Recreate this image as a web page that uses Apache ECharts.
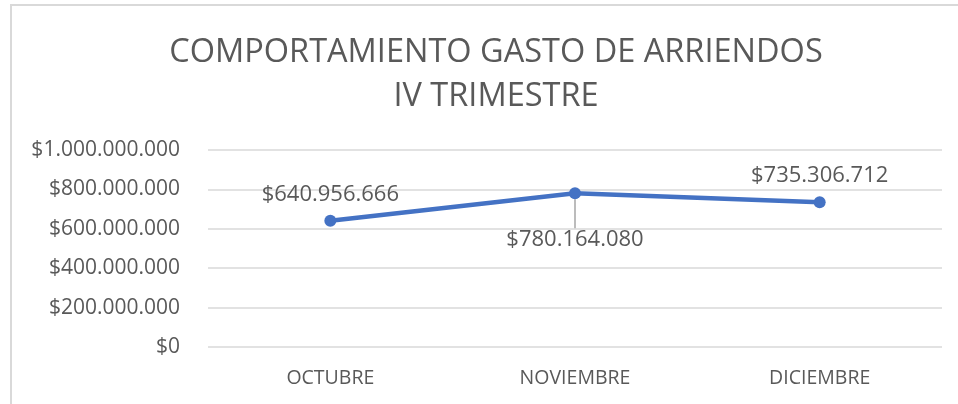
<!DOCTYPE html>
<html>
<head>
<meta charset="utf-8">
<script src="https://cdn.jsdelivr.net/npm/echarts@6/dist/echarts.min.js"></script>
<style>
  html, body { margin: 0; padding: 0; background: #fff; }
  #chart { width: 958px; height: 404px; }
</style>
</head>
<body>
<div id="chart"></div>
<script>
// Monthly rent expense, fourth quarter
const months = ['OCTUBRE', 'NOVIEMBRE', 'DICIEMBRE'];
const gasto = [640956666, 780164080, 735306712];
const titleLines = ['COMPORTAMIENTO GASTO DE ARRIENDOS', 'IV TRIMESTRE'];

const FONT = '"Open Sans", "Liberation Sans", sans-serif';
const TEXT = '#595959';

// "$1.000.000.000" style: dot as thousands separator
function pesos(v) {
  return '$' + Math.round(v).toString().replace(/\B(?=(\d{3})+(?!\d))/g, '.');
}

const chart = echarts.init(document.getElementById('chart'), null, { renderer: 'canvas' });

chart.setOption({
  animation: false,
  backgroundColor: '#ffffff',
  graphic: [{
    type: 'rect',
    shape: { x: 11, y: 5, width: 1000, height: 460 },
    style: { fill: 'none', stroke: '#d9d9d9', lineWidth: 2 },
    silent: true
  }],
  title: {
    text: titleLines.join('\n'),
    left: 491,
    textAlign: 'center',
    top: 26,
    textStyle: {
      fontFamily: FONT,
      fontWeight: 400,
      fontSize: 32.5,
      lineHeight: 44,
      color: TEXT
    }
  },
  grid: { left: 208, right: 16, top: 150, bottom: 57 },
  xAxis: {
    type: 'category',
    data: months,
    boundaryGap: true,
    axisLine: { show: false },
    axisTick: { show: false },
    axisLabel: { color: TEXT, fontFamily: FONT, fontSize: 19.5, margin: 21 }
  },
  yAxis: {
    type: 'value',
    min: 0,
    max: 1000000000,
    interval: 200000000,
    axisLine: { show: false },
    axisTick: { show: false },
    splitLine: { lineStyle: { color: '#d9d9d9', width: 1.5 } },
    axisLabel: {
      color: TEXT, fontFamily: FONT, fontSize: 21, margin: 28,
      formatter: pesos
    }
  },
  series: [{
    type: 'line',
    data: gasto.map((v, i) => ({
      value: v,
      label: i === 1
        ? { position: 'bottom', distance: 0 }
        : { position: 'top', distance: 9 },
      labelLine: { show: i === 1 }
    })),
    symbol: 'circle',
    symbolSize: 12,
    lineStyle: { color: '#4472c4', width: 4.5 },
    itemStyle: { color: '#4472c4' },
    label: {
      show: true,
      color: TEXT,
      fontFamily: FONT,
      fontSize: 22,
      formatter: p => pesos(p.value)
    },
    labelLayout: p => (p.dataIndex === 1 ? { dy: 29 } : {}),
    labelLine: { show: true, lineStyle: { color: '#a6a6a6', width: 1.5 } }
  }]
});
</script>
</body>
</html>
